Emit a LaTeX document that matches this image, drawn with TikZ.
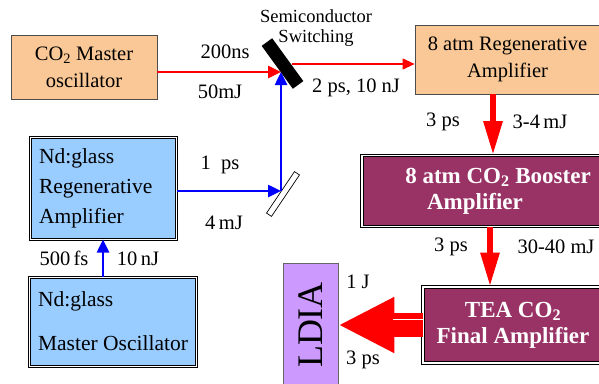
\documentclass[tikz,border=0pt]{standalone}
\usepackage{fontspec}
\setmainfont{Liberation Serif}
\newfontfamily\timesfont{Liberation Serif}
\usetikzlibrary{arrows.meta}
\definecolor{peach}{RGB}{250,200,150}
\definecolor{skyblue}{RGB}{153,204,255}
\definecolor{plum}{RGB}{153,51,102}
\definecolor{lilac}{RGB}{204,153,255}

\begin{document}
\begin{tikzpicture}[x=1pt,y=-1pt,
  co2box/.style={draw=black!70,line width=0.8pt,fill=peach,inner sep=0pt,align=center,font=\timesfont\fontsize{20.5}{27}\selectfont},
  ndbox/.style={draw=black,line width=1pt,double=white,double distance=1pt,fill=skyblue,align=left,inner xsep=9pt,inner ysep=0pt,font=\timesfont\fontsize{21.5}{30}\selectfont},
  ampbox/.style={draw=black,line width=1pt,double=white,double distance=1.2pt,fill=plum,text=white,inner sep=0pt,align=center,font=\timesfont\bfseries\fontsize{23}{26}\selectfont},
  lbl/.style={inner sep=0pt,font=\timesfont\fontsize{20.5}{24}\selectfont},
  redbeam/.style={red,line width=2.5pt,-{Triangle[length=13pt,width=12pt]}},
  bluebeam/.style={blue,line width=2.5pt,-{Triangle[length=13pt,width=12pt]}},
  fatbeam/.style={red,line width=6pt,-{Triangle[length=34pt,width=18pt]}}]
\useasboundingbox (0,0) rectangle (599,383);
\clip (0,0) rectangle (599,383);

\node[co2box,minimum width=146pt,minimum height=64pt] (co2osc) at (84,67) {CO\textsubscript{2} Master\\oscillator};
\node[co2box,minimum width=185pt,minimum height=69pt] (regen8) at (507.5,59.5) {8 atm Regenerative\\Amplifier};
\node[ampbox,minimum width=272pt,minimum height=71pt] (booster) at (498,191) {8 atm CO\textsubscript{2} Booster\\Amplifier\hspace*{46pt}};
\node[ampbox,minimum width=180pt,minimum height=76pt] (tea) at (513,325) {TEA CO\textsubscript{2}\\Final Amplifier};
\node[draw=black!60,line width=0.8pt,fill=lilac,inner sep=0pt,minimum width=124pt,minimum height=55pt,rotate=90,font=\timesfont\fontsize{36}{36}\selectfont] (ldia) at (310.5,325) {LDIA};
\node[ndbox,text width=128pt,minimum height=102pt] (ndregen) at (103,188) {Nd:glass\\Regenerative\\Amplifier};
\node[ndbox,minimum width=166pt,minimum height=89pt,font=\timesfont\fontsize{21.5}{44}\selectfont] (ndosc) at (113,321.5) {Nd:glass\\Master Oscillator};

\node[fill=black,inner sep=0pt,minimum width=53pt,minimum height=13pt,rotate=-54] (switch) at (282.5,63.5) {};
\node[draw=black,fill=white,line width=0.7pt,inner sep=0pt,minimum width=50pt,minimum height=6pt,rotate=56] (mirror) at (283,194) {};

\coordinate (swin) at (281,72);
\coordinate (swout) at (292,64);
\coordinate (mirpt) at (281,191);
\coordinate (beamA) at (493,0);
\coordinate (beamB) at (490,0);

\draw[redbeam] (co2osc.east |- swin) -- (swin);
\draw[red,line width=1.2pt,-{Triangle[length=12pt,width=11pt]}] (swout) -- (regen8.west |- swout);
\draw[bluebeam] (ndregen.east |- mirpt) -- (mirpt);
\draw[bluebeam] (mirpt) -- (swin);
\draw[bluebeam] (ndosc.north -| ndregen.south) -- (ndregen.south);
\draw[fatbeam] (regen8.south -| beamA) -- (booster.north -| beamA);
\draw[fatbeam] (booster.south -| beamB) -- (tea.north -| beamB);
\draw[red,line width=24pt,-{Triangle[length=56pt,width=52pt]}] (tea.west) -- (ldia.south);
\draw[white,line width=1.2pt] ([yshift=5.5pt]tea.west) -- ++(-30,0);

\node[lbl] (tA) at (225,52) {200ns};
\node[lbl] (eA) at (220,92) {50mJ};
\node[lbl,align=center,font=\timesfont\fontsize{18.5}{20}\selectfont] (swlbl) at (316,28) {Semiconductor\\Switching};
\node[lbl] (tB) at (356,88) {2 ps, 10 nJ};
\node[lbl] (tC) at (443,122) {3 ps};
\node[lbl] (eC) at (540,122) {3-4\,mJ};
\node[lbl] (tD) at (451,247) {3 ps};
\node[lbl] (eD) at (556,247) {30-40 mJ};
\node[lbl] (eE) at (358,282) {1 J};
\node[lbl] (tE) at (363,360) {3 ps};
\node[lbl] (tF) at (220,165) {1\ \ ps};
\node[lbl] (eF) at (224,223) {4\,mJ};
\node[lbl] (tG) at (64,258) {500\,fs};
\node[lbl] (eG) at (138,259) {10\,nJ};
\end{tikzpicture}
\end{document}
